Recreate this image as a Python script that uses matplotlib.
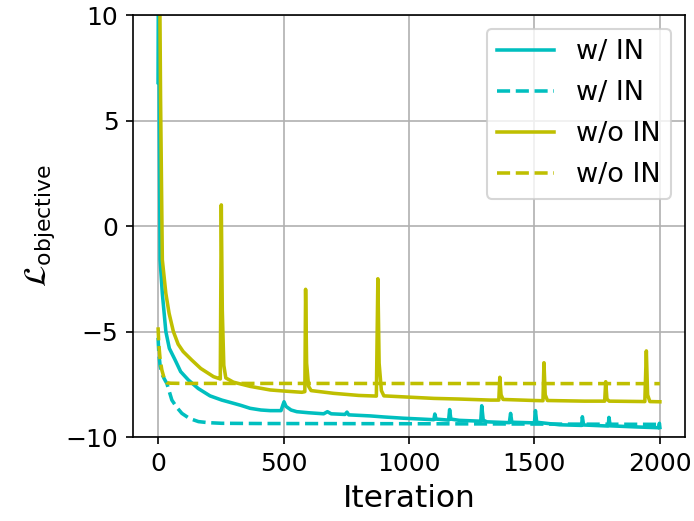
import matplotlib
matplotlib.use('Agg')
import matplotlib.pyplot as plt

# training loss, with instance norm (w/ IN) and without (w/o IN)
it_in = [0, 2, 5, 8, 17, 31, 45, 68, 90, 121, 160, 207, 254, 300, 330,
         367, 410, 447, 490, 497, 502, 510, 530, 553, 600, 660, 675, 690, 745, 753, 760,
         846, 900, 979, 1050, 1099, 1103, 1108, 1158, 1162, 1167, 1200, 1286, 1290, 1296,
         1310, 1400, 1405, 1410, 1500, 1504, 1509, 1600, 1688, 1691, 1696, 1794, 1797,
         1802, 1900, 1995, 1998, 2000]
loss_in = [6.8, 15, 5.0, -1.6, -3.2, -5.0, -5.8, -6.35, -6.9, -7.3, -7.7, -8.05, -8.25,
           -8.4, -8.5, -8.64, -8.72, -8.75, -8.75, -8.5,
           -8.33, -8.55, -8.72, -8.8, -8.85, -8.9, -8.8, -8.9, -8.93, -8.82, -8.95, -9.0,
           -9.05, -9.11, -9.15, -9.18, -8.91, -9.15, -9.2, -8.7, -9.15, -9.21, -9.25, -8.52,
           -9.2, -9.28, -9.32, -8.88, -9.3, -9.33, -8.75, -9.3, -9.42, -9.45, -9.04, -9.43,
           -9.48, -9.07, -9.47, -9.52, -9.56, -9.35, -9.55]

it_in_d = [0, 3, 8, 15, 25, 35, 55, 75, 95, 125, 161, 200, 254, 400, 1000, 2000]
loss_in_d = [-5.3, -6.0, -6.6, -7.0, -7.25, -7.46, -8.25, -8.6, -8.88, -9.12, -9.27, -9.32,
             -9.35, -9.36, -9.37, -9.4]

it_noin = [0, 5, 10, 17, 31, 44, 61, 80, 100, 134, 170, 221, 241, 248, 252,
           256, 262, 270, 300, 367, 447, 500, 573, 585, 588, 592, 600, 610, 700, 800, 870,
           876, 881, 890, 900, 966, 1100, 1200, 1325, 1358, 1362, 1367, 1375, 1500, 1534,
           1538, 1543, 1552, 1700, 1780, 1784, 1789, 1798, 1940, 1946, 1951, 1960, 2000]
loss_noin = [22, 14, 6, -1.6, -3.19, -4.14, -5.0, -5.6, -5.95, -6.35, -6.75, -7.14,
             -7.22, -7.25, 1.0, -4.0, -6.6, -7.2, -7.4, -7.6, -7.77, -7.82,
             -7.88, -7.85, -3.0, -6.5, -7.6, -7.8, -7.93, -8.03, -8.06, -2.5, -6.5, -7.8,
             -8.05, -8.09, -8.17, -8.2, -8.25, -8.25, -7.17, -8.0, -8.22, -8.27, -8.28,
             -6.48, -8.0, -8.27, -8.3, -8.3, -7.38, -8.2, -8.3, -8.32, -5.92, -8.0, -8.32,
             -8.33]

it_noin_d = [0, 3, 8, 15, 25, 35, 50, 100, 500, 2000]
loss_noin_d = [-4.8, -5.6, -6.3, -6.82, -7.25, -7.43, -7.45, -7.46, -7.46, -7.47]

fig, ax = plt.subplots(figsize=(694 / 150, 521 / 150), dpi=150)
fig.subplots_adjust(left=0.1916, right=0.987, top=0.9712, bottom=0.1612)

ax.plot(it_in, loss_in, color='c', lw=1.7, label='w/ IN')
ax.plot(it_in_d, loss_in_d, color='c', lw=1.7, ls='--', label='w/ IN')
ax.plot(it_noin, loss_noin, color='y', lw=1.7, label='w/o IN')
ax.plot(it_noin_d, loss_noin_d, color='y', lw=1.7, ls='--', label='w/o IN')

ax.set_xlim(-100, 2100)
ax.set_ylim(-10, 10)
ax.set_yticks([-10, -5, 0, 5, 10])
ax.grid(True)
ax.tick_params(labelsize=12)
ax.set_xlabel('Iteration', fontsize=15)
ax.set_ylabel(r'$\mathcal{L}_{\mathrm{objective}}$', fontsize=15)
ax.legend(loc='upper right', fontsize=13, labelspacing=0.55, handlelength=2.1)

plt.savefig('out.png', dpi=150)
